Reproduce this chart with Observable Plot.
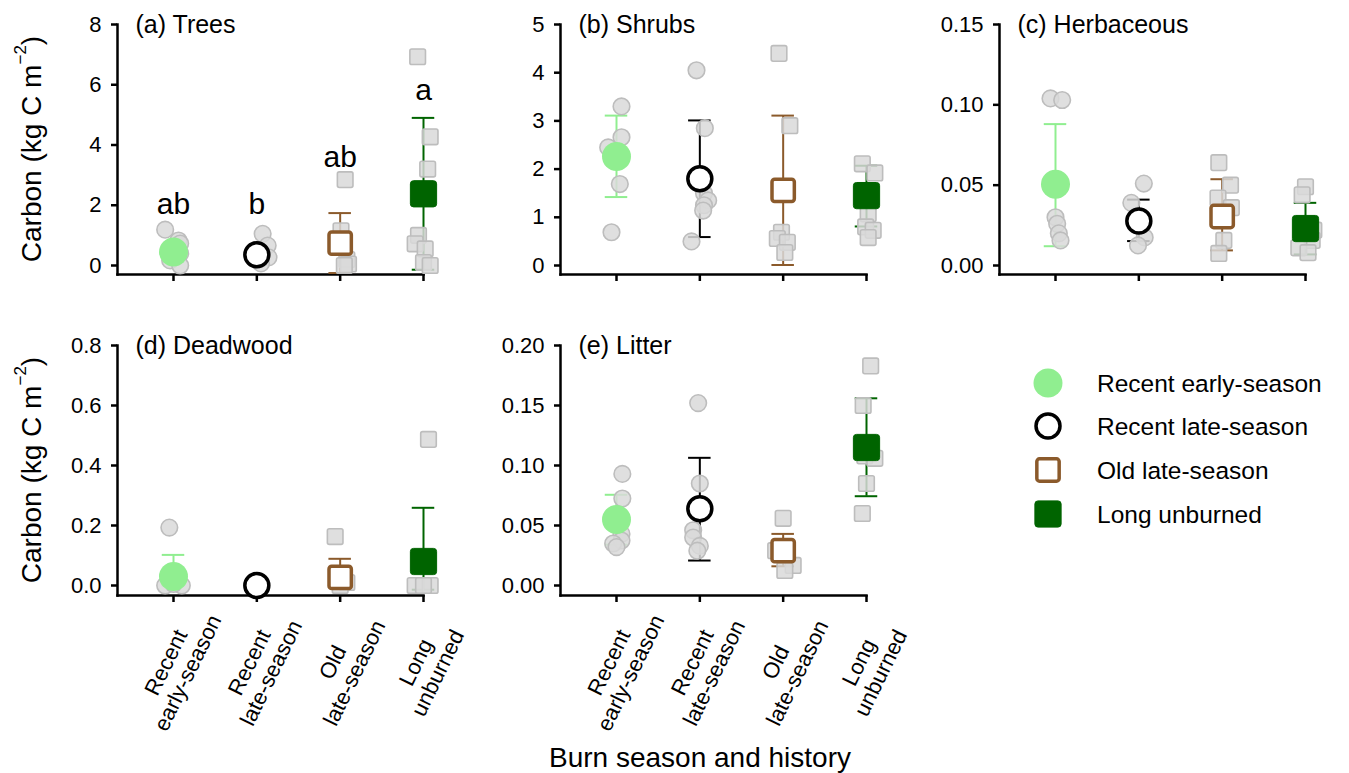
<!DOCTYPE html>
<html>
<head>
<meta charset="utf-8">
<script src="https://cdn.jsdelivr.net/npm/d3@7"></script>
<script src="https://cdn.jsdelivr.net/npm/@observablehq/plot@0.6"></script>
<style>
  body { margin: 0; background: #fff; font-family: "Liberation Sans", Arial, sans-serif; }
  #chart { position: relative; width: 1349px; height: 773px; overflow: hidden; background: #fff; }
  #chart > svg, #chart > .panel { position: absolute; }
</style>
</head>
<body>
<div id="chart"></div>
<script>
// ---------- data ----------
const groups = ["Recent early-season", "Recent late-season", "Old late-season", "Long unburned"];
const tickLabels = ["Recent\nearly-season", "Recent\nlate-season", "Old\nlate-season", "Long\nunburned"];

// (a) Trees
const treesMean = [0.45, 0.36, 0.74, 2.38];
const treesLo = [0.25, 0.20, -0.25, -0.14];
const treesHi = [0.65, 0.52, 1.74, 4.9];
const treesRaw = [[1.19, 0.83, 0.73, 0.40, 0.17, 0.0], [1.05, 0.66, 0.27, 0.07], [2.85, 1.15, 0.2, 0.05, 0.0], [6.93, 4.27, 3.2, 1.0, 0.72, 0.55, 0.1, 0.0]];
const treesJit = [[-0.10, 0.06, 0.08, 0.08, -0.04, 0.08], [0.07, 0.13, 0.14, 0.05], [0.06, 0.01, 0.08, 0.1, 0.05], [-0.07, 0.08, 0.05, -0.06, -0.1, 0.02, 0.0, 0.08]];
const treesLetters = ["ab", "b", "ab", "a"];
const treesLetterY = [1.72, 1.72, 3.27, 5.48];

// (b) Shrubs
const shrubsMean = [2.26, 1.80, 1.56, 1.45];
const shrubsLo = [1.42, 0.59, 0.01, 0.81];
const shrubsHi = [3.11, 3.01, 3.11, 2.07];
const shrubsRaw = [[3.3, 2.66, 2.45, 2.2, 1.69, 0.69], [4.05, 2.85, 1.5, 1.35, 1.25, 1.14, 0.5], [4.4, 2.9, 0.69, 0.56, 0.48, 0.27], [2.11, 1.92, 1.07, 0.8, 0.73, 0.58]];
const shrubsJit = [[0.06, 0.06, -0.1, 0.0, 0.04, -0.06], [-0.04, 0.06, 0.05, 0.1, 0.05, 0.04, -0.1], [-0.05, 0.08, -0.02, -0.07, 0.05, 0.02], [-0.05, 0.1, 0.02, -0.01, 0.08, 0.02]];

// (c) Herbaceous
const herbMean = [0.0506, 0.0277, 0.0305, 0.023];
const herbLo = [0.012, 0.0152, 0.0094, 0.0069];
const herbHi = [0.088, 0.041, 0.0537, 0.039];
const herbRaw = [[0.104, 0.103, 0.030, 0.026, 0.020, 0.0156], [0.051, 0.039, 0.0175, 0.0125], [0.064, 0.050, 0.042, 0.036, 0.0156, 0.0075], [0.049, 0.044, 0.022, 0.0156, 0.011, 0.008]];
const herbJit = [[-0.06, 0.08, 0.0, 0.02, 0.04, 0.06], [0.06, -0.09, 0.07, -0.01], [-0.04, 0.1, -0.05, 0.11, 0.02, -0.04], [0.0, -0.04, 0.1, 0.08, -0.08, 0.03]];

// (d) Deadwood
const deadMean = [0.03, 0.0, 0.027, 0.08];
const deadLo = [0.0, 0.0, 0.0, -0.014];
const deadHi = [0.102, 0.0, 0.089, 0.259];
const deadRaw = [[0.193, 0.0, 0.0, 0.005], [0.0, 0.0], [0.163, 0.01, 0.0], [0.487, 0.0, 0.0, 0.0]];
const deadJit = [[-0.05, -0.1, 0.1, 0.0], [-0.05, 0.05], [-0.06, 0.08, 0.0], [0.06, -0.1, 0.08, 0.0]];

// (e) Litter
const litterMean = [0.055, 0.064, 0.029, 0.115];
const litterLo = [0.034, 0.0208, 0.016, 0.0744];
const litterHi = [0.0756, 0.1064, 0.043, 0.156];
const litterRaw = [[0.093, 0.0725, 0.043, 0.0375, 0.035, 0.032], [0.152, 0.085, 0.046, 0.040, 0.033, 0.029], [0.056, 0.029, 0.0167, 0.0125], [0.183, 0.15, 0.108, 0.106, 0.085, 0.06]];
const litterJit = [[0.07, 0.07, 0.06, 0.06, -0.04, 0.0], [-0.02, 0.0, -0.08, -0.08, 0.0, -0.03], [0.0, -0.09, 0.12, 0.02], [0.05, -0.04, -0.02, 0.1, 0.0, -0.05]];

// ---------- styles ----------
const FONT = '"Liberation Sans", Arial, Helvetica, sans-serif';
const lightGreen = "#90ee90", brown = "#8b5a2b", darkGreen = "#006400";
const groupColors = [lightGreen, "#000000", brown, darkGreen];

const roundSquare = {
  draw(context, size) {
    const s = Math.sqrt(size), h = s / 2, r = s * 0.12;
    context.moveTo(-h + r, -h);
    context.arcTo(h, -h, h, h, r);
    context.arcTo(h, h, -h, h, r);
    context.arcTo(-h, h, -h, -h, r);
    context.arcTo(-h, -h, h, -h, r);
    context.closePath();
  }
};
const meanStyles = [
  {symbol: "circle", r: 14.5, fill: lightGreen, stroke: "none", strokeWidth: 0},
  {symbol: "circle", r: 12, fill: "#ffffff", stroke: "#000000", strokeWidth: 3.5},
  {symbol: roundSquare, r: 12.6, fill: "#ffffff", stroke: brown, strokeWidth: 3.5},
  {symbol: roundSquare, r: 14.8, fill: darkGreen, stroke: darkGreen, strokeWidth: 1}
];

const chart = document.getElementById("chart");

function makePanel(p) {
  const W = 460, ml = 117, mr = 37, mt = 24;
  const H = p.height, mb = p.height - 274;
  const summary = groups.map((g, i) => ({i, g, mean: p.mean[i], lo: p.lo[i], hi: p.hi[i]}));
  const points = p.raw.flatMap((vals, i) => vals.map((v, k) => ({i, x: i + p.jit[i][k], v})));
  const capHalf = 0.135;
  const marks = [
    Plot.frame({anchor: "left", strokeWidth: 2.5}),
    Plot.frame({anchor: "bottom", strokeWidth: 2.5}),
    Plot.axisY({ticks: p.ticks, tickFormat: p.fmt, tickSize: 6, tickPadding: 10, strokeWidth: 2.5, fontSize: 22, label: null}),
    Plot.axisX({ticks: [0, 1, 2, 3], tickFormat: () => "", tickSize: 7, strokeWidth: 2.5, label: null}),
    Plot.text([p.title], {frameAnchor: "top-left", dx: 18, textAnchor: "start", lineAnchor: "middle", fontSize: 25})
  ];
  // error bars
  groups.forEach((g, i) => {
    const d = summary.filter(s => s.i === i && s.hi !== s.lo);
    const c = groupColors[i];
    marks.push(Plot.ruleX(d, {x: "i", y1: "lo", y2: "hi", stroke: c, strokeWidth: 2}));
    marks.push(Plot.ruleY(d, {y: "hi", x1: s => s.i - capHalf, x2: s => s.i + capHalf, stroke: c, strokeWidth: 2}));
    marks.push(Plot.ruleY(d, {y: "lo", x1: s => s.i - capHalf, x2: s => s.i + capHalf, stroke: c, strokeWidth: 2}));
  });
  // raw observations
  marks.push(Plot.dot(points.filter(d => d.i < 2), {x: "x", y: "v", r: 8.3, symbol: "circle", fill: "#d9d9d9", fillOpacity: 0.85, stroke: "#bdbdbd", strokeWidth: 1.6}));
  marks.push(Plot.dot(points.filter(d => d.i >= 2), {x: "x", y: "v", r: 8.8, symbol: roundSquare, fill: "#d9d9d9", fillOpacity: 0.85, stroke: "#bdbdbd", strokeWidth: 1.6}));
  // means
  meanStyles.forEach((st, i) => {
    marks.push(Plot.dot(summary.filter(s => s.i === i), {x: "i", y: "mean", ...st}));
  });
  if (p.letters) {
    const ld = p.letters.map((t, i) => ({i, t, y: p.letterY[i]}));
    marks.push(Plot.text(ld, {x: "i", y: "y", text: "t", fontSize: 30, lineAnchor: "bottom"}));
  }
  if (p.showX) {
    marks.push(Plot.text([0, 1, 2, 3], {x: d => d, text: d => tickLabels[d], frameAnchor: "bottom", rotate: -64, dx: 3, dy: 72, fontSize: 22, lineHeight: 1.1, textAnchor: "middle", lineAnchor: "middle"}));
  }
  const plot = Plot.plot({
    width: W, height: H,
    marginLeft: ml, marginRight: mr, marginTop: mt, marginBottom: mb,
    style: {fontFamily: FONT, fontSize: "22px", color: "#000", background: "transparent", overflow: "visible"},
    x: {domain: [0, 3], range: [ml + 56, W - mr], axis: null},
    y: {domain: [0, p.max], range: [274 - p.zeroGap, mt], axis: null},
    marks
  });
  plot.classList.add("panel");
  plot.style.left = p.left + "px";
  plot.style.top = p.top + "px";
  plot.style.maxWidth = "none";
  if (p.yLabel) {
    const t = d3.select(plot).append("text")
      .attr("transform", `translate(31,${(mt + 274) / 2}) rotate(-90)`)
      .attr("text-anchor", "middle")
      .attr("dominant-baseline", "central")
      .attr("font-family", FONT)
      .attr("font-size", 28)
      .attr("fill", "#000");
    t.append("tspan").text("Carbon (kg C m");
    t.append("tspan").attr("dy", -11).attr("font-size", 17).text("\u22122");
    t.append("tspan").attr("dy", 11).text(")");
  }
  chart.appendChild(plot);
}

const fInt = d3.format("d"), f1 = d3.format(".1f"), f2 = d3.format(".2f");

makePanel({title: "(a) Trees", mean: treesMean, lo: treesLo, hi: treesHi, raw: treesRaw, jit: treesJit, max: 8, ticks: [0, 2, 4, 6, 8], fmt: fInt, letters: treesLetters, letterY: treesLetterY, yLabel: true, showX: false, left: 0, top: 0, height: 300, zeroGap: 9});
makePanel({title: "(b) Shrubs", mean: shrubsMean, lo: shrubsLo, hi: shrubsHi, raw: shrubsRaw, jit: shrubsJit, max: 5, ticks: [0, 1, 2, 3, 4, 5], fmt: fInt, yLabel: false, showX: false, left: 443, top: 0, height: 300, zeroGap: 9});
makePanel({title: "(c) Herbaceous", mean: herbMean, lo: herbLo, hi: herbHi, raw: herbRaw, jit: herbJit, max: 0.15, ticks: [0, 0.05, 0.10, 0.15], fmt: f2, yLabel: false, showX: false, left: 882, top: 0, height: 300, zeroGap: 9});
makePanel({title: "(d) Deadwood", mean: deadMean, lo: deadLo, hi: deadHi, raw: deadRaw, jit: deadJit, max: 0.8, ticks: [0, 0.2, 0.4, 0.6, 0.8], fmt: f1, yLabel: true, showX: true, left: 0, top: 321, height: 440, zeroGap: 10});
makePanel({title: "(e) Litter", mean: litterMean, lo: litterLo, hi: litterHi, raw: litterRaw, jit: litterJit, max: 0.20, ticks: [0, 0.05, 0.10, 0.15, 0.20], fmt: f2, yLabel: false, showX: true, left: 443, top: 321, height: 440, zeroGap: 10});

// ---------- legend & shared x title ----------
const overlay = d3.select(chart).append("svg")
  .attr("width", 1349).attr("height", 773)
  .style("left", "0px").style("top", "0px")
  .attr("font-family", FONT);

const legendRows = [383, 426, 470, 514];
const sym = (st) => d3.symbol(st.symbol === "circle" ? d3.symbolCircle : st.symbol, Math.PI * st.r * st.r)();
groups.forEach((g, i) => {
  const st = meanStyles[i];
  overlay.append("path")
    .attr("d", sym(st))
    .attr("transform", `translate(1048,${legendRows[i]})`)
    .attr("fill", st.fill).attr("stroke", st.stroke).attr("stroke-width", st.strokeWidth);
  overlay.append("text")
    .attr("x", 1097).attr("y", legendRows[i])
    .attr("dominant-baseline", "central")
    .attr("font-size", 24.5).attr("fill", "#000")
    .text(g);
});
overlay.append("text")
  .attr("x", 700).attr("y", 767)
  .attr("text-anchor", "middle")
  .attr("font-size", 28).attr("fill", "#000")
  .text("Burn season and history");
</script>
</body>
</html>
